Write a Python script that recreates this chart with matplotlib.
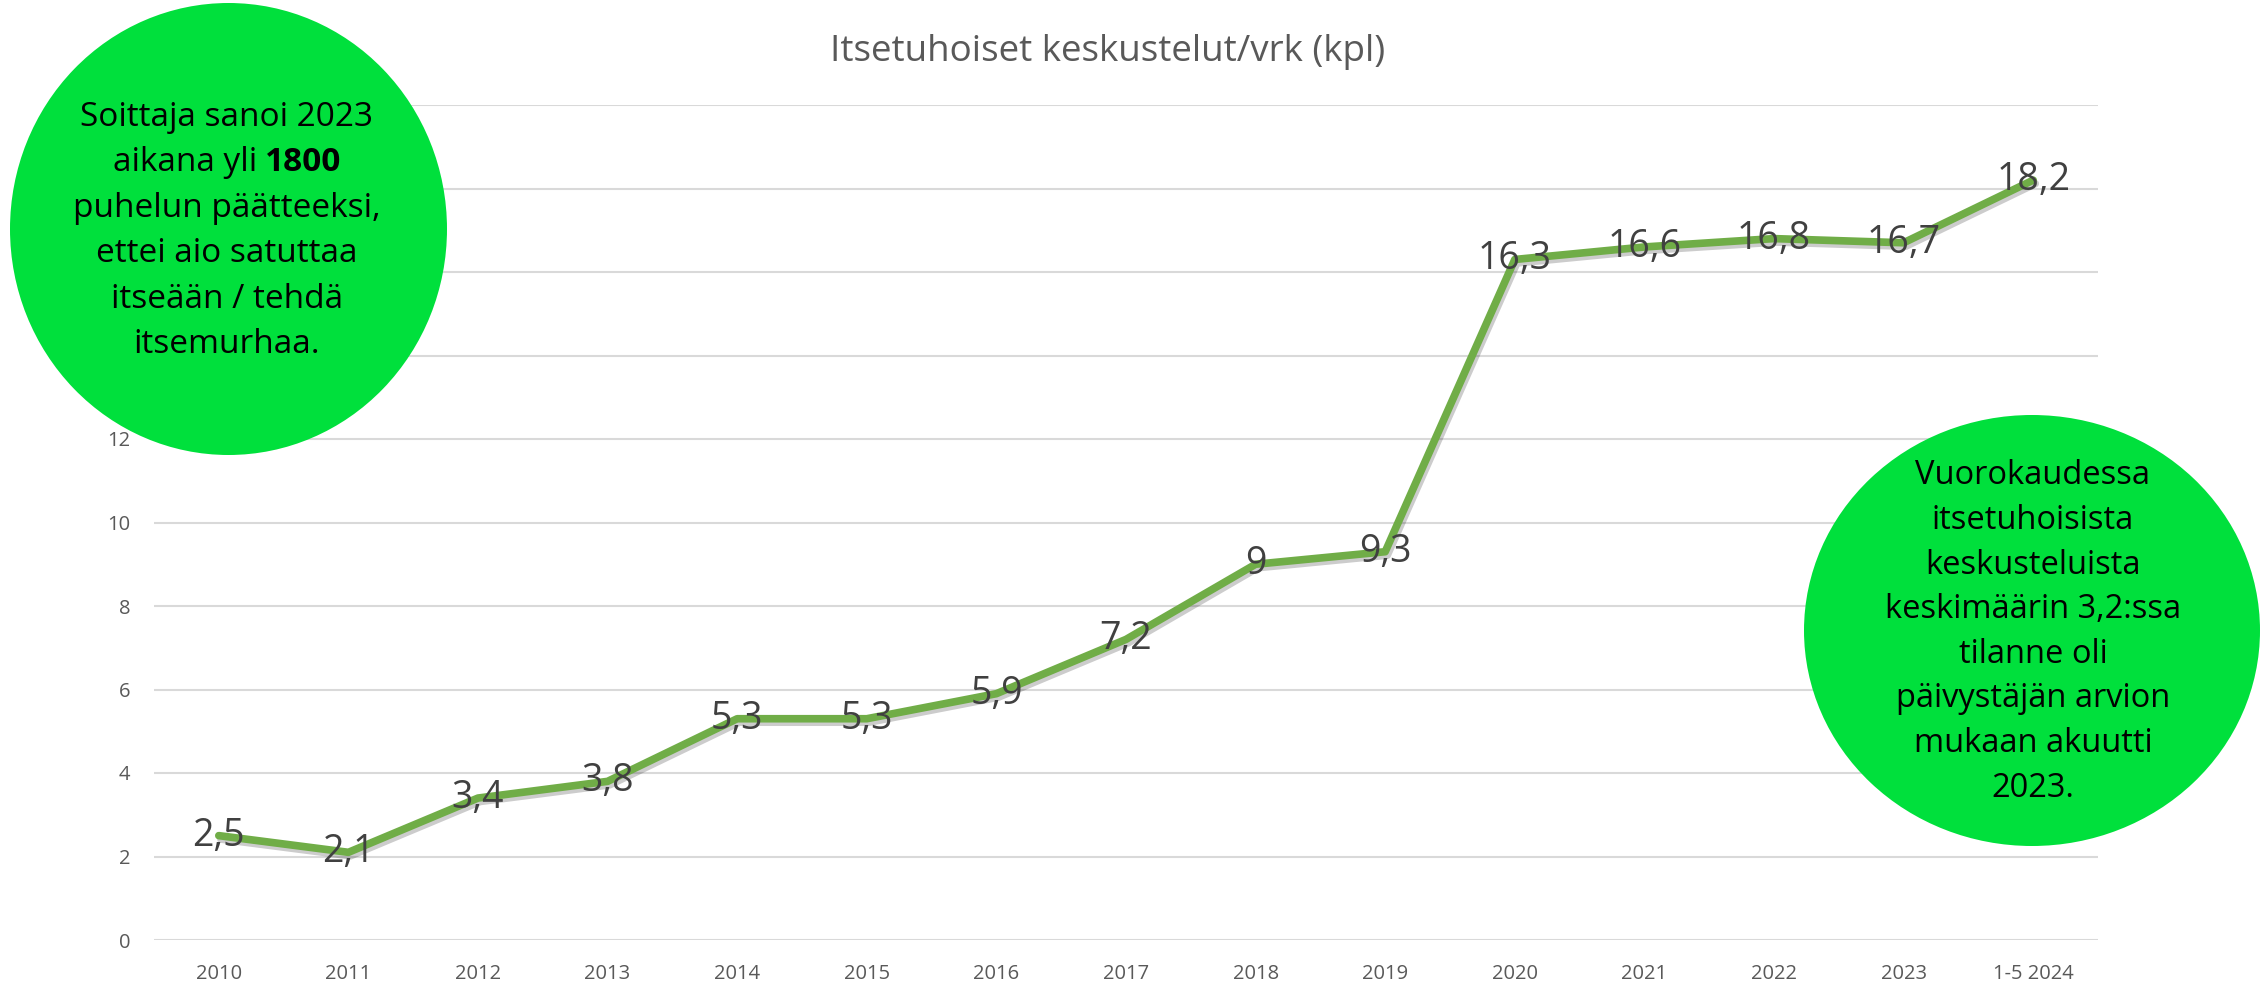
import matplotlib
matplotlib.use("Agg")
import matplotlib.pyplot as plt
import matplotlib.patheffects as pe
from matplotlib.patches import Ellipse
from matplotlib.offsetbox import TextArea, HPacker, AnnotationBbox

plt.rcParams['font.family'] = ['Open Sans', 'DejaVu Sans']

# data
years = ['2010', '2011', '2012', '2013', '2014', '2015', '2016', '2017',
         '2018', '2019', '2020', '2021', '2022', '2023', '1-5 2024']
per_day = [2.5, 2.1, 3.4, 3.8, 5.3, 5.3, 5.9, 7.2, 9, 9.3,
           16.3, 16.6, 16.8, 16.7, 18.2]
y_ticks = [0, 2, 4, 6, 8, 10, 12, 14, 16, 18, 20]

title = 'Itsetuhoiset keskustelut/vrk (kpl)'
left_note = ['Soittaja sanoi 2023', None, 'puhelun päätteeksi,',
             'ettei aio satuttaa', 'itseään / tehdä', 'itsemurhaa.']
right_note = ['Vuorokaudessa', 'itsetuhoisista', 'keskusteluista',
              'keskimäärin 3,2:ssa', 'tilanne oli', 'päivystäjän arvion',
              'mukaan akuutti', '2023.']

W, H = 2267, 983
fig = plt.figure(figsize=(W / 100, H / 100), dpi=100)
ax = fig.add_axes([154 / W, 1 - 940 / H, (2098 - 154) / W, (940 - 105) / H])

line_green = '#70AD47'
grey = '#595959'
x = list(range(len(years)))
ax.plot(x, per_day, color=line_green, lw=5.5, solid_capstyle='round',
        solid_joinstyle='round', zorder=3,
        path_effects=[pe.SimpleLineShadow(offset=(1.5, -2.5), shadow_color='black', alpha=0.2),
                      pe.Normal()])

for i, v in zip(x, per_day):
    ax.text(i, v, f'{v:g}'.replace('.', ','), ha='center', va='center',
            fontsize=27, color='#404040', zorder=4)

ax.set_xlim(-0.5, len(years) - 0.5)
ax.set_ylim(0, 20)
ax.set_yticks(y_ticks)
# labels 14..20 sit under the left note circle in the original
ax.set_yticklabels([str(t) if t <= 12 else '' for t in y_ticks])
ax.set_xticks(x)
ax.set_xticklabels(years)
ax.tick_params(axis='both', length=0, labelsize=14.5, labelcolor=grey)
ax.tick_params(axis='y', pad=17)
ax.tick_params(axis='x', pad=17)
ax.grid(axis='y', color='#D9D9D9', lw=1.5)
ax.set_axisbelow(True)
for s in ax.spines.values():
    s.set_visible(False)

fig.text(1108 / W, 1 - 52 / H, title, ha='center', va='center',
         fontsize=26.5, color=grey)

# green notes
circle_green = '#00E03C'
fig.add_artist(Ellipse((228.5 / W, 1 - 229 / H), 437 / W, 452 / H,
                       transform=fig.transFigure, color=circle_green, lw=0, zorder=2))
fig.add_artist(Ellipse((2032 / W, 1 - 630.5 / H), 456 / W, 431 / H,
                       transform=fig.transFigure, color=circle_green, lw=0, zorder=2))

left_fs = 24
for k, txt in enumerate(left_note):
    yc = 1 - (231 + (k - 2.5) * 45.5) / H
    if txt is None:
        box = HPacker(children=[TextArea('aikana yli', textprops=dict(fontsize=left_fs, color='black')),
                                TextArea('1800', textprops=dict(fontsize=left_fs, color='black',
                                                                fontweight='bold'))],
                      align='baseline', pad=0, sep=6)
        ab = AnnotationBbox(box, (227 / W, yc), xycoords='figure fraction',
                            frameon=False, box_alignment=(0.5, 0.5), pad=0, zorder=5)
        fig.add_artist(ab)
    else:
        fig.text(227 / W, yc, txt, ha='center', va='center', fontsize=left_fs,
                 color='black', zorder=5)

for k, txt in enumerate(right_note):
    yc = 1 - (632 + (k - 3.5) * 44.6) / H
    fig.text(2033 / W, yc, txt, ha='center', va='center', fontsize=23.5,
             color='black', zorder=5)

fig.savefig('out.png', dpi=100)
